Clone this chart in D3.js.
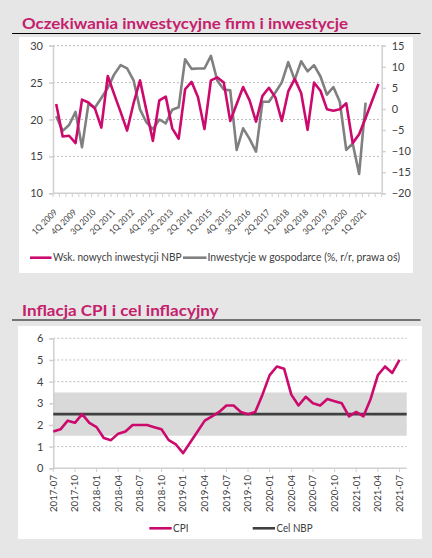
<!DOCTYPE html>
<html><head><meta charset="utf-8">
<script src="https://cdn.jsdelivr.net/npm/d3@7"></script>
<style>
html,body{margin:0;padding:0;background:#e6e6e6;}
svg{display:block;}
text{font-family:Lato,"Open Sans",sans-serif;}
</style></head>
<body>
<script>
// ---------- DATA: chart 1 ----------
const title1 = "Oczekiwania inwestycyjne firm i inwestycje";
const quarters = [];
for (let y = 2009; y <= 2021; y++) for (let q = 1; q <= 4; q++) quarters.push(q + "Q " + y);
quarters.length = 51; // 1Q 2009 ... 3Q 2021
const nbpIndex = [22.1,17.7,17.8,16.8,22.7,22.3,21.5,18.9,25.9,23.4,21.0,18.5,22.2,25.3,21.2,17.1,22.6,23.1,18.8,17.4,
  24.1,25.1,23.0,18.7,25.3,25.7,25.0,19.8,22.1,24.4,22.6,19.7,23.2,24.3,23.0,19.8,23.8,25.5,23.6,18.6,
  25.0,23.9,21.4,21.2,21.4,22.2,16.8,18.0,20.2,22.5,24.8];
const investment = [-1.7,-5.2,-3.8,-0.7,-9.1,1.2,0.3,2.6,5.0,8.2,10.4,9.6,6.8,-0.1,-3.2,-4.8,-2.5,-3.4,-0.2,0.4,
  11.8,9.5,9.6,9.6,12.6,6.7,4.6,4.4,-9.7,-4.6,-7.1,-10.1,1.7,1.7,3.9,6.3,11.1,6.9,11.3,8.9,
  10.4,7.7,3.4,5.2,1.7,-9.7,-8.2,-15.4,1.5];
const leftTicks = [10,15,20,25,30];
const rightTicks = [-20,-15,-10,-5,0,5,10,15];
const legend1 = ["Wsk. nowych inwestycji NBP", "Inwestycje w gospodarce (%, r/r, prawa oś)"];

// ---------- DATA: chart 2 ----------
const title2 = "Inflacja CPI i cel inflacyjny";
const months = [];
for (let y = 2017; y <= 2021; y++) for (let m = 1; m <= 12; m++) months.push(y + "-" + String(m).padStart(2,"0"));
const monthAxis = months.slice(6, 56); // 2017-07 ... 2021-08
const cpi = [1.7,1.8,2.2,2.1,2.5,2.1,1.9,1.4,1.3,1.6,1.7,2.0,2.0,2.0,1.9,1.8,1.3,1.1,0.7,1.2,1.7,2.2,2.4,2.6,
  2.9,2.9,2.6,2.5,2.6,3.4,4.3,4.7,4.6,3.4,2.9,3.3,3.0,2.9,3.2,3.1,3.0,2.4,2.6,2.4,3.2,4.3,4.7,4.4,5.0];
const target = 2.5, tolerance = 1.0;
const cpiTicks = [0,1,2,3,4,5,6];
const legend2 = ["CPI", "Cel NBP"];

// ---------- STYLE ----------
const PINK = "#cc0a6e", GREY = "#808080", DARK = "#404040", TITLE = "#c4206c";
const AXIS = "#d0d0d0", GRID = "#bdbdbd", TXT = "#404040";

const svg = d3.select("body").append("svg").attr("width", 432).attr("height", 558);
svg.append("rect").attr("width", 432).attr("height", 558).attr("fill", "#e6e6e6");

function title(t, y, lineY, w) {
  svg.append("text").attr("x", 22).attr("y", y).text(t)
    .attr("font-size", 16).attr("font-weight", 700).attr("fill", TITLE)
    .attr("textLength", w).attr("lengthAdjust", "spacingAndGlyphs");
  svg.append("line").attr("x1", 12).attr("x2", 420.5).attr("y1", lineY).attr("y2", lineY)
    .attr("stroke", "#000").attr("stroke-width", 1.2);
}
function legendText(g, x, y, t, w) {
  g.append("text").attr("x", x).attr("y", y).attr("dy", "0.35em").attr("font-size", 10.5)
    .attr("fill", TXT).attr("textLength", w).attr("lengthAdjust", "spacingAndGlyphs").text(t);
}

// ======== CHART 1 ========
title(title1, 29.3, 33.5, 326);
svg.append("rect").attr("x", 19).attr("y", 37).attr("width", 394).attr("height", 236).attr("fill", "#fff");

const x1 = d3.scaleBand().domain(quarters).range([53, 381.7]).padding(0);
const cx1 = d => x1(d) + x1.bandwidth() / 2;
const yL = d3.scaleLinear().domain([10, 30]).range([193.3, 45.7]);
const yR = d3.scaleLinear().domain([-20, 15]).range([193.3, 45.7]);
const g1 = svg.append("g");

g1.selectAll(".grid").data(leftTicks.filter(t => t > 10)).join("line")
  .attr("x1", 53).attr("x2", 381.7).attr("y1", d => yL(d)).attr("y2", d => yL(d))
  .attr("stroke", GRID).attr("stroke-width", 1).attr("stroke-dasharray", "2,2");

const la = g1.append("g").attr("transform", "translate(53,0)")
  .call(d3.axisLeft(yL).tickValues(leftTicks).tickSize(4).tickPadding(6));
la.selectAll("path,line").attr("stroke", AXIS).attr("stroke-width", 1.5);
la.selectAll("text").attr("font-size", 11).attr("fill", TXT).attr("font-family", "Lato");
const ra = g1.append("g").attr("transform", "translate(381.7,0)")
  .call(d3.axisRight(yR).tickValues(rightTicks).tickSize(4).tickPadding(6).tickFormat(d3.format("d")));
ra.selectAll("path,line").attr("stroke", AXIS).attr("stroke-width", 1.5);
ra.selectAll("text").attr("font-size", 11).attr("fill", TXT).attr("font-family", "Lato");
g1.append("line").attr("x1", 53).attr("x2", 381.7).attr("y1", 193.3).attr("y2", 193.3)
  .attr("stroke", AXIS).attr("stroke-width", 1.5);
g1.selectAll(".xt").data(quarters.concat(["end"])).join("line")
  .attr("x1", (d, i) => 53 + i * x1.bandwidth()).attr("x2", (d, i) => 53 + i * x1.bandwidth())
  .attr("y1", 193.3).attr("y2", 197).attr("stroke", AXIS).attr("stroke-width", 1);
g1.selectAll(".xl").data(quarters.filter((d, i) => i % 3 === 0)).join("text")
  .attr("transform", d => `translate(${cx1(d) + 1.5},${213}) rotate(-45)`)
  .attr("text-anchor", "end")
  .attr("font-size", 8.8).attr("fill", TXT)
  .attr("textLength", 31.5).attr("lengthAdjust", "spacingAndGlyphs").text(d => d);

g1.append("path").datum(investment)
  .attr("d", d3.line().x((d, i) => cx1(quarters[i])).y(d => yR(d)))
  .attr("fill", "none").attr("stroke", GREY).attr("stroke-width", 2.6).attr("stroke-linejoin", "round");
g1.append("path").datum(nbpIndex)
  .attr("d", d3.line().x((d, i) => cx1(quarters[i])).y(d => yL(d)))
  .attr("fill", "none").attr("stroke", PINK).attr("stroke-width", 2.6).attr("stroke-linejoin", "round");

const lg1 = svg.append("g");
lg1.append("line").attr("x1", 30).attr("x2", 51.5).attr("y1", 257.7).attr("y2", 257.7).attr("stroke", PINK).attr("stroke-width", 2.6);
legendText(lg1, 53, 257.7, legend1[0], 128.5);
lg1.append("line").attr("x1", 183).attr("x2", 206.5).attr("y1", 257.7).attr("y2", 257.7).attr("stroke", GREY).attr("stroke-width", 2.6);
legendText(lg1, 207.5, 257.7, legend1[1], 192.5);

// ======== CHART 2 ========
title(title2, 315.5, 320, 196.6);
svg.append("rect").attr("x", 18).attr("y", 326).attr("width", 404).attr("height", 213).attr("fill", "#fff");

const x2 = d3.scalePoint().domain(monthAxis).range([53.3, 406.7]).padding(0);
const y2 = d3.scaleLinear().domain([0, 6]).range([468.3, 338.3]);
const g2 = svg.append("g");

g2.selectAll(".grid").data(cpiTicks.filter(t => t > 0)).join("line")
  .attr("x1", 53.3).attr("x2", 406.7).attr("y1", d => y2(d)).attr("y2", d => y2(d))
  .attr("stroke", GRID).attr("stroke-width", 1).attr("stroke-dasharray", "2,2");

g2.append("path").datum(monthAxis)
  .attr("d", d3.area().x(d => x2(d)).y0(y2(target - tolerance)).y1(y2(target + tolerance)))
  .attr("fill", "#d9d9d9");

const la2 = g2.append("g").attr("transform", "translate(53.3,0)")
  .call(d3.axisLeft(y2).tickValues(cpiTicks).tickSize(4).tickPadding(6).tickFormat(d3.format("d")));
la2.selectAll("path,line").attr("stroke", AXIS).attr("stroke-width", 1.5);
la2.selectAll("text").attr("font-size", 11).attr("fill", TXT).attr("font-family", "Lato");

g2.append("line").attr("x1", 53.3).attr("x2", 406.7).attr("y1", 468.3).attr("y2", 468.3)
  .attr("stroke", AXIS).attr("stroke-width", 1.5);
const labMonths = monthAxis.filter((d, i) => i % 3 === 0);
g2.selectAll(".xt").data(labMonths).join("line")
  .attr("x1", d => x2(d)).attr("x2", d => x2(d)).attr("y1", 468.3).attr("y2", 472)
  .attr("stroke", AXIS).attr("stroke-width", 1);
g2.selectAll(".xl").data(labMonths).join("text")
  .attr("transform", d => `translate(${x2(d)},${475}) rotate(-90)`)
  .attr("text-anchor", "end").attr("dy", "0.35em")
  .attr("font-size", 9.6).attr("fill", TXT).text(d => d);

g2.append("path").datum(monthAxis)
  .attr("d", d3.line().x(d => x2(d)).y(y2(target)))
  .attr("fill", "none").attr("stroke", DARK).attr("stroke-width", 2.6);
g2.append("path").datum(cpi)
  .attr("d", d3.line().x((d, i) => x2(monthAxis[i])).y(d => y2(d)))
  .attr("fill", "none").attr("stroke", PINK).attr("stroke-width", 2.6).attr("stroke-linejoin", "round");

const lg2 = svg.append("g");
lg2.append("line").attr("x1", 149.3).attr("x2", 171.7).attr("y1", 528.3).attr("y2", 528.3).attr("stroke", PINK).attr("stroke-width", 2.6);
legendText(lg2, 173, 528.3, legend2[0], 15.5);
lg2.append("line").attr("x1", 252.7).attr("x2", 275).attr("y1", 528.3).attr("y2", 528.3).attr("stroke", DARK).attr("stroke-width", 2.6);
legendText(lg2, 276.5, 528.3, legend2[1], 36);
</script>
</body></html>
